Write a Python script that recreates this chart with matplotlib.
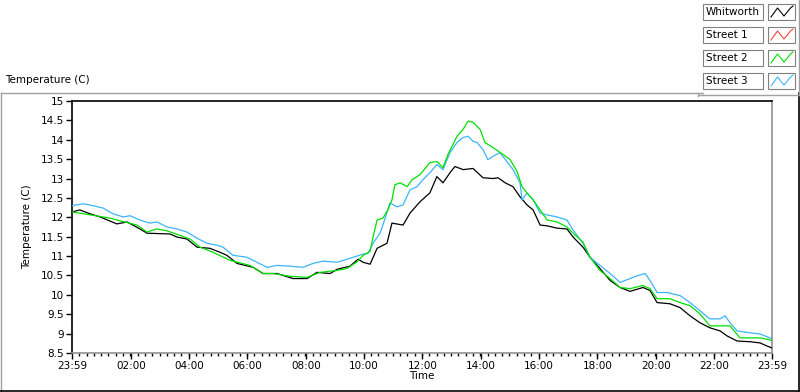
import matplotlib.pyplot as plt
import matplotlib.patches as mpatches
from matplotlib.lines import Line2D
import numpy as np

# hours after 23:59 and temperature readings (C)
whit_h = [0.00, 0.27, 0.62, 0.96, 1.54, 1.89, 2.33, 2.57, 3.36, 3.60, 3.94, 4.29, 4.73,
          5.07, 5.31, 5.66, 6.21, 6.55, 7.03, 7.58, 8.06, 8.40, 8.85, 9.09, 9.53, 9.81,
          9.98, 10.22, 10.46, 10.80, 10.97, 11.35, 11.59, 11.93, 12.27, 12.51, 12.72,
          12.96, 13.13, 13.41, 13.75, 14.09, 14.43, 14.61, 14.85, 15.12, 15.36, 15.60,
          15.81, 16.05, 16.29, 16.63, 16.97, 17.18, 17.52, 17.76, 18.10, 18.45, 18.79,
          19.13, 19.58, 19.82, 20.06, 20.50, 20.85, 21.19, 21.53, 21.87, 22.22, 22.46,
          22.80, 23.25, 23.59, 23.83, 24.00]
whit_t = [12.14, 12.19, 12.09, 12.01, 11.83, 11.88, 11.70, 11.59, 11.57, 11.49, 11.44,
          11.23, 11.20, 11.10, 11.02, 10.81, 10.71, 10.55, 10.55, 10.42, 10.42, 10.58,
          10.55, 10.66, 10.74, 10.92, 10.84, 10.79, 11.20, 11.33, 11.85, 11.80, 12.11,
          12.40, 12.63, 13.05, 12.89, 13.15, 13.31, 13.23, 13.26, 13.02, 13.00, 13.02,
          12.89, 12.79, 12.53, 12.32, 12.19, 11.80, 11.78, 11.72, 11.70, 11.49, 11.23,
          10.97, 10.68, 10.37, 10.19, 10.09, 10.19, 10.11, 9.80, 9.77, 9.67, 9.46, 9.28,
          9.15, 9.07, 8.94, 8.81, 8.79, 8.76, 8.68, 8.63]

street1_h = []
street1_t = []

street2_h = [0.00, 1.30, 1.54, 2.23, 2.57, 2.91, 3.26, 4.05, 4.39, 4.83, 5.42, 6.10, 6.55,
             6.89, 7.47, 8.06, 8.50, 9.09, 9.43, 9.77, 9.98, 10.22, 10.32, 10.46, 10.66,
             10.83, 10.97, 11.07, 11.25, 11.49, 11.66, 11.93, 12.27, 12.51, 12.72, 12.89,
             13.20, 13.41, 13.58, 13.75, 13.99, 14.16, 14.43, 14.78, 15.02, 15.26, 15.43,
             15.60, 15.81, 16.05, 16.29, 16.63, 16.97, 17.18, 17.52, 17.76, 18.10, 18.45,
             18.79, 19.13, 19.58, 19.82, 20.06, 20.50, 20.85, 21.19, 21.53, 21.87, 22.56,
             22.90, 23.59, 23.93, 24.00]
street2_t = [12.14, 11.98, 11.93, 11.80, 11.62, 11.70, 11.65, 11.44, 11.23, 11.10, 10.89,
             10.76, 10.55, 10.55, 10.48, 10.45, 10.58, 10.63, 10.68, 10.85, 11.02, 11.12,
             11.49, 11.93, 11.98, 12.19, 12.45, 12.84, 12.89, 12.79, 12.97, 13.10, 13.41,
             13.44, 13.28, 13.62, 14.09, 14.27, 14.48, 14.45, 14.27, 13.93, 13.80, 13.62,
             13.49, 13.18, 12.79, 12.63, 12.45, 12.19, 11.93, 11.88, 11.75, 11.59, 11.36,
             10.97, 10.63, 10.42, 10.19, 10.16, 10.24, 10.16, 9.90, 9.90, 9.80, 9.72, 9.51,
             9.20, 9.20, 8.89, 8.89, 8.84, 8.81]

street3_h = [0.00, 0.38, 0.72, 1.06, 1.41, 1.75, 1.99, 2.33, 2.67, 2.91, 3.26, 3.60, 3.94,
             4.29, 4.63, 4.97, 5.18, 5.52, 6.00, 6.34, 6.69, 7.03, 7.47, 7.92, 8.26, 8.61,
             9.09, 9.43, 9.77, 9.98, 10.15, 10.32, 10.56, 10.66, 10.90, 11.14, 11.35, 11.59,
             11.83, 12.03, 12.27, 12.51, 12.72, 12.96, 13.20, 13.41, 13.58, 13.75, 13.89,
             14.09, 14.26, 14.43, 14.67, 14.91, 15.12, 15.36, 15.43, 15.60, 15.81, 16.05,
             16.29, 16.63, 16.97, 17.18, 17.52, 17.76, 18.10, 18.45, 18.79, 19.13, 19.41,
             19.65, 19.82, 20.06, 20.40, 20.85, 21.19, 21.53, 21.87, 22.22, 22.39, 22.56,
             22.80, 23.25, 23.59, 23.93, 24.00]
street3_t = [12.30, 12.35, 12.30, 12.24, 12.09, 12.01, 12.04, 11.93, 11.85, 11.88, 11.75,
             11.70, 11.62, 11.46, 11.33, 11.28, 11.23, 11.02, 10.97, 10.84, 10.71, 10.76,
             10.74, 10.71, 10.81, 10.87, 10.84, 10.92, 11.00, 11.05, 11.07, 11.33, 11.59,
             11.80, 12.37, 12.27, 12.32, 12.71, 12.79, 12.97, 13.15, 13.36, 13.23, 13.67,
             13.93, 14.06, 14.09, 13.96, 13.93, 13.75, 13.49, 13.57, 13.67, 13.44, 13.23,
             12.89, 12.45, 12.63, 12.45, 12.11, 12.06, 12.01, 11.93, 11.67, 11.33, 10.97,
             10.76, 10.55, 10.32, 10.42, 10.50, 10.55, 10.37, 10.06, 10.06, 9.98, 9.80,
             9.59, 9.38, 9.38, 9.46, 9.28, 9.07, 9.02, 8.99, 8.89, 8.86]

names = ["Whitworth", "Street 1", "Street 2", "Street 3"]
colors = ["#000000", "#ff4040", "#00e000", "#3ab4ff"]

yticks = [8.5, 9, 9.5, 10, 10.5, 11, 11.5, 12, 12.5, 13, 13.5, 14, 14.5, 15]
xtick_h = [0, 2.0167, 4.0167, 6.0167, 8.0167, 10.0167, 12.0167, 14.0167, 16.0167,
           18.0167, 20.0167, 22.0167, 24]
xtick_labels = ["23:59", "02:00", "04:00", "06:00", "08:00", "10:00", "12:00",
                "14:00", "16:00", "18:00", "20:00", "22:00", "23:59"]

plt.rcParams['font.family'] = 'DejaVu Sans'
fig = plt.figure(figsize=(8, 3.92), dpi=100)

W, H = 800, 392

def fx(px):
    return px / W

def fy(py):
    return 1 - py / H

# outer panel frame
fig.add_artist(Line2D([fx(1), fx(703)], [fy(93), fy(93)], color="#a0a0a0", lw=1))
fig.add_artist(Line2D([fx(0.5), fx(0.5)], [fy(93), fy(391)], color="#a0a0a0", lw=1))
fig.add_artist(Line2D([fx(0), fx(799)], [fy(391), fy(391)], color="black", lw=1.2))
fig.add_artist(Line2D([fx(799), fx(799)], [fy(93), fy(391)], color="black", lw=1.2))
# legend panel edges
fig.add_artist(Line2D([fx(698), fx(698)], [fy(93), fy(96)], color="#a0a0a0", lw=1))
fig.add_artist(Line2D([fx(699), fx(799)], [fy(95), fy(95)], color="#a0a0a0", lw=1))
fig.add_artist(Line2D([fx(798.5), fx(798.5)], [fy(0), fy(95)], color="#a0a0a0", lw=1))

fig.text(fx(5), fy(80), "Temperature (C)", fontsize=7.5, va="center", ha="left")

ax = fig.add_axes([fx(72), fy(353), fx(772) - fx(72), fy(101) - fy(353)])
series = [(whit_h, whit_t), (street1_h, street1_t), (street2_h, street2_t), (street3_h, street3_t)]
order = [1, 0, 3, 2]
for i in order:
    h, t = series[i]
    ax.plot(h, t, color=colors[i], lw=0.9, zorder=3 + (i == 2))

ax.set_xlim(0, 24)
ax.set_ylim(8.5, 15)
ax.set_yticks(yticks)
ax.set_yticklabels([f"{v:g}" for v in yticks])
ax.set_xticks(xtick_h)
ax.set_xticklabels(xtick_labels)
ax.set_xticks(np.arange(0.25, 24, 0.25), minor=True)
ax.tick_params(axis="both", which="major", labelsize=7.5, length=4, width=1, pad=2)
ax.tick_params(axis="x", which="minor", length=2.5, width=1)
ax.tick_params(axis="y", which="minor", length=0)
ax.spines["top"].set_color("black")
ax.spines["left"].set_color("black")
ax.spines["right"].set_color("#909090")
ax.spines["bottom"].set_color("#909090")
for s in ax.spines.values():
    s.set_linewidth(1.2)
ax.set_xlabel("Time", fontsize=7.5, labelpad=0)
ax.set_ylabel("Temperature (C)", fontsize=7.5, labelpad=6)

# legend: name boxes plus swatch boxes
row_tops = [4, 27, 50, 73]
for name, c, top in zip(names, colors, row_tops):
    fig.add_artist(mpatches.Rectangle((fx(703), fy(top + 16)), fx(60), fy(top) - fy(top + 16),
                                      facecolor="white", edgecolor="#808080", lw=0.8))
    fig.text(fx(706), fy(top + 8), name, fontsize=7.5, va="center", ha="left")
    fig.add_artist(mpatches.Rectangle((fx(768), fy(top + 16)), fx(27), fy(top) - fy(top + 16),
                                      facecolor="white", edgecolor="#808080", lw=0.8))
    xs = [771, 777.5, 784, 790.5, 793]
    ys = [top + 13, top + 4, top + 12, top + 4, top + 2]
    fig.add_artist(Line2D([fx(v) for v in xs], [fy(v) for v in ys], color=c, lw=0.8))

fig.savefig("out.png", dpi=100)
